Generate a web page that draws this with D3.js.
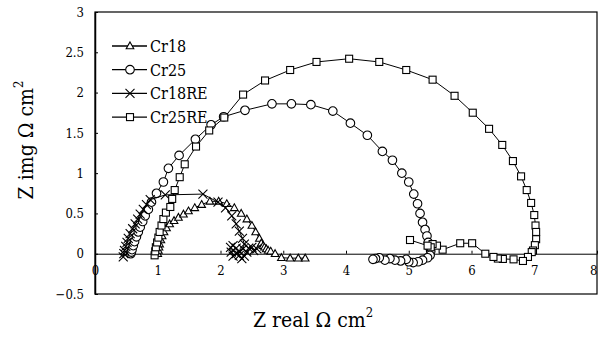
<!DOCTYPE html>
<html>
<head>
<meta charset="utf-8">
<script src="https://cdn.jsdelivr.net/npm/d3@7"></script>
<style>
  body { margin: 0; background: #fff; }
</style>
</head>
<body>
<div class="chart"></div>
<script>
// data (Z real, Z img in ohm cm2)
const seriesNames = ['Cr18', 'Cr25', 'Cr18RE', 'Cr25RE'];

const cr18X = [1.0, 1.01, 1.02, 1.03, 1.05, 1.07, 1.1, 1.14, 1.19, 1.26, 1.33, 1.41, 1.49, 1.59, 1.7, 1.83, 1.97, 2.1, 2.22, 2.33, 2.42, 2.5, 2.56, 2.62, 2.65, 2.68, 2.7, 2.73, 2.76, 2.8, 2.87, 2.97, 3.11, 3.24, 3.35];
const cr18Y = [0.0, 0.04, 0.08, 0.12, 0.17, 0.22, 0.27, 0.32, 0.37, 0.41, 0.45, 0.49, 0.53, 0.57, 0.61, 0.65, 0.65, 0.62, 0.57, 0.5, 0.43, 0.35, 0.27, 0.19, 0.13, 0.1, 0.08, 0.06, 0.04, 0.03, 0.0, -0.05, -0.055, -0.055, -0.055];

const cr25X = [0.57, 0.58, 0.59, 0.61, 0.63, 0.66, 0.69, 0.72, 0.76, 0.8, 0.85, 0.9, 0.98, 1.09, 1.17, 1.34, 1.6, 1.85, 2.05, 2.39, 2.82, 3.13, 3.44, 3.79, 4.07, 4.34, 4.58, 4.74, 4.89, 5.0, 5.08, 5.14, 5.18, 5.22, 5.26, 5.29, 5.31, 5.33, 5.35, 5.34, 5.3, 5.22, 5.15, 5.07, 5.0, 4.96, 4.87, 4.78, 4.7, 4.62, 4.53, 4.47, 4.43];
const cr25Y = [0.0, 0.02, 0.05, 0.1, 0.15, 0.21, 0.27, 0.33, 0.4, 0.47, 0.55, 0.64, 0.75, 0.89, 1.06, 1.22, 1.42, 1.6, 1.7, 1.78, 1.86, 1.86, 1.85, 1.77, 1.62, 1.47, 1.27, 1.16, 1.0, 0.89, 0.74, 0.62, 0.5, 0.39, 0.3, 0.22, 0.14, 0.08, 0.03, -0.02, -0.05, -0.08, -0.1, -0.11, -0.1, -0.07, -0.09, -0.08, -0.06, -0.08, -0.05, -0.06, -0.07];

const cr18reX = [0.45, 0.46, 0.47, 0.49, 0.51, 0.53, 0.56, 0.6, 0.64, 0.68, 0.72, 0.77, 0.82, 0.88, 1.12, 1.72, 1.96, 2.08, 2.18, 2.25, 2.3, 2.35, 2.38, 2.36, 2.3, 2.25, 2.2, 2.17, 2.16, 2.2, 2.25, 2.3, 2.34, 2.38, 2.42, 2.45, 2.5, 2.53, 2.58];
const cr18reY = [-0.04, 0.0, 0.04, 0.09, 0.14, 0.19, 0.25, 0.31, 0.37, 0.43, 0.49, 0.55, 0.61, 0.67, 0.73, 0.74, 0.64, 0.57, 0.47, 0.37, 0.28, 0.19, 0.12, 0.06, 0.03, 0.0, -0.03, 0.02, 0.08, 0.1, 0.07, -0.02, -0.06, -0.03, 0.02, 0.07, 0.08, 0.04, 0.06];

const cr25reX = [0.95, 0.96, 0.97, 0.99, 1.01, 1.03, 1.06, 1.09, 1.13, 1.2, 1.23, 1.27, 1.35, 1.43, 1.61, 1.82, 2.06, 2.36, 2.71, 3.11, 3.53, 4.05, 4.53, 4.96, 5.38, 5.73, 6.02, 6.28, 6.49, 6.66, 6.79, 6.88, 6.95, 7.0, 7.02, 7.03, 7.03, 7.01, 6.98, 6.96, 6.9, 6.82, 6.67, 6.5, 6.42, 6.35, 6.22, 6.01, 5.82, 5.54, 5.45, 5.38, 5.35, 5.3, 5.02];
const cr25reY = [-0.02, 0.03, 0.08, 0.14, 0.2, 0.27, 0.35, 0.43, 0.51, 0.58, 0.68, 0.79, 0.95, 1.11, 1.33, 1.53, 1.69, 1.975, 2.15, 2.28, 2.38, 2.42, 2.38, 2.28, 2.16, 1.96, 1.75, 1.55, 1.35, 1.15, 0.96, 0.79, 0.63, 0.48, 0.35, 0.27, 0.18, 0.106, 0.04, 0.02, -0.04, -0.09, -0.07, -0.065, -0.06, -0.04, 0.0, 0.13, 0.13, 0.05, 0.1, 0.12, 0.08, 0.1, 0.17];

const xTicks = [0, 1, 2, 3, 4, 5, 6, 7, 8];
const yTicks = [-0.5, 0, 0.5, 1, 1.5, 2, 2.5, 3];

const series = [
    { name: seriesNames[0], xs: cr18X,   ys: cr18Y,   marker: 'triangle' },
    { name: seriesNames[1], xs: cr25X,   ys: cr25Y,   marker: 'circle' },
    { name: seriesNames[2], xs: cr18reX, ys: cr18reY, marker: 'x' },
    { name: seriesNames[3], xs: cr25reX, ys: cr25reY, marker: 'square' },
];

const serif = '"DejaVu Serif Condensed", "DejaVu Serif", serif';

const svgSize = { width: 598, height: 338 };
const margin = { top: 12, right: 1, bottom: 44, left: 95 };
const width  = svgSize.width  - margin.left - margin.right;
const height = svgSize.height - margin.top  - margin.bottom;

const svg = d3.select('.chart')
    .append('svg')
    .attr('width', svgSize.width)
    .attr('height', svgSize.height)
    .style('font-family', serif);

const graph = svg.append('g')
    .attr('transform', `translate(${margin.left}, ${margin.top})`);

const x = d3.scaleLinear().domain([0, 8]).range([0, width]);
const y = d3.scaleLinear().domain([-0.5, 3]).range([height, 0]);

// frame
graph.append('rect')
    .attr('width', width).attr('height', height)
    .attr('fill', 'none').attr('stroke', '#000').attr('stroke-width', 1.2);

// y axis (ticks inside, labels outside)
const yAxis = graph.append('g')
    .call(d3.axisLeft(y).tickValues(yTicks).tickSizeInner(-3).tickSizeOuter(0).tickPadding(11)
        .tickFormat(d => d3.format('')(d)));
yAxis.attr('font-family', null);
yAxis.select('.domain').attr('stroke-width', 1.5);
yAxis.selectAll('text').style('font-family', serif).attr('font-size', 13);

// x axis on the zero line, labels below it
const xAxis = graph.append('g')
    .attr('transform', `translate(0, ${y(0)})`)
    .call(d3.axisBottom(x).tickValues(xTicks).tickSizeInner(-3).tickSizeOuter(0).tickPadding(12));
xAxis.attr('font-family', null);
xAxis.selectAll('text').style('font-family', serif).attr('font-size', 13);
// last label sits on the right edge
xAxis.selectAll('text').filter(d => d === 8).attr('text-anchor', 'end');

// axis titles
svg.append('text')
    .attr('transform', `translate(33, 140) rotate(-90)`)
    .attr('text-anchor', 'middle')
    .attr('font-size', 21)
    .style('font-family', serif)
    .html('Z img Ω cm<tspan dy="-10" font-size="13">2</tspan>');

svg.append('text')
    .attr('x', 313).attr('y', 327)
    .attr('text-anchor', 'middle')
    .attr('font-size', 21)
    .style('font-family', serif)
    .html('Z real Ω cm<tspan dy="-10" font-size="13">2</tspan>');

const drawMarker = (sel, type) => {
    if (type === 'circle') {
        sel.append('circle').attr('r', 4.3);
    } else if (type === 'square') {
        sel.append('rect').attr('x', -3.5).attr('y', -3.5).attr('width', 7).attr('height', 7);
    } else if (type === 'triangle') {
        sel.append('path').attr('d', 'M0,-4L3.8,2.8L-3.8,2.8Z');
    } else {
        sel.append('path').attr('d', 'M-4.5,-4.5L4.5,4.5M-4.5,4.5L4.5,-4.5');
    }
};

const line = d3.line().x(d => x(d[0])).y(d => y(d[1]));

series.forEach(s => {
    const pts = s.xs.map((v, i) => [v, s.ys[i]]);
    const g = graph.append('g');
    g.append('path')
        .attr('d', line(pts))
        .attr('fill', 'none').attr('stroke', '#000').attr('stroke-width', 1);
    g.selectAll('g.m').data(pts).enter()
        .append('g').attr('class', 'm')
        .attr('transform', d => `translate(${x(d[0])}, ${y(d[1])})`)
        .each(function () { drawMarker(d3.select(this), s.marker); })
        .selectAll('*')
        .attr('fill', '#fff').attr('stroke', '#000').attr('stroke-width', 1.1);
});

// legend
const legend = svg.append('g').attr('transform', 'translate(112, 46)');
series.forEach((s, i) => {
    const row = legend.append('g').attr('transform', `translate(0, ${i * 23.7})`);
    row.append('line').attr('x1', 0).attr('x2', 35).attr('stroke', '#000').attr('stroke-width', 1.3);
    const m = row.append('g').attr('transform', 'translate(18, 0)');
    drawMarker(m, s.marker);
    m.selectAll('*').attr('fill', '#fff').attr('stroke', '#000').attr('stroke-width', 1.1);
    row.append('text').attr('x', 38).attr('y', 6).attr('font-size', 16)
        .style('font-family', serif).text(s.name);
});
</script>
</body>
</html>
